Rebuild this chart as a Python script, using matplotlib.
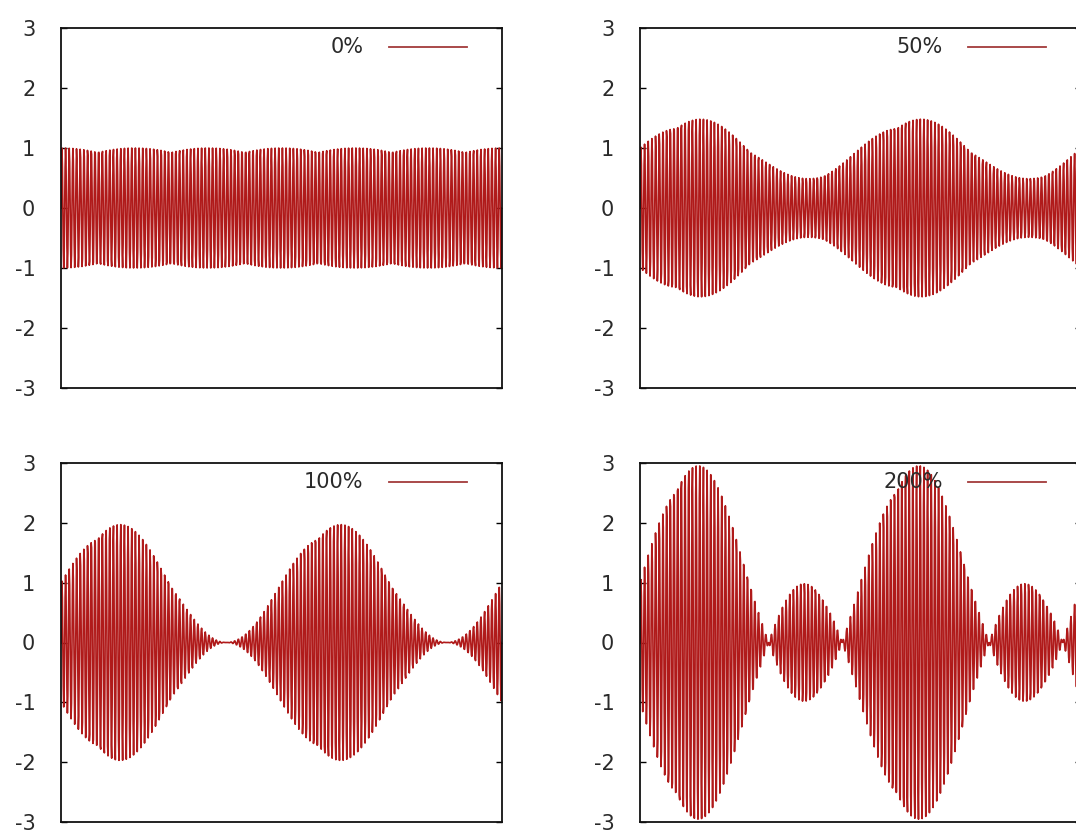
import matplotlib
matplotlib.use("Agg")
import matplotlib.pyplot as plt
import numpy as np

plt.rcParams['font.family'] = ['DejaVu Sans']
plt.rcParams['axes.unicode_minus'] = False

# values
depths = [0, 50, 100, 200]                 # modulation depth, percent
labels = ['0%', '50%', '100%', '200%']
carrier_cycles = 120                       # carrier cycles across the x range
mod_cycles = 2                             # envelope cycles across the x range
n_samples = 967
yticks = [-3, -2, -1, 0, 1, 2, 3]

line_color = '#b01a1a'
key_color = '#a33a3a'

fig = plt.figure(figsize=(10.76, 8.34), dpi=100)
W, H = 1076, 834
# panel boxes in pixels: left, top, bottom (width 441)
boxes = [(61, 28, 388), (640, 28, 388), (61, 463, 822), (640, 463, 822)]

x = np.linspace(0, 4 * np.pi, n_samples)
for depth, lab, (x0, top, bot) in zip(depths, labels, boxes):
    ax = fig.add_axes([x0 / W, 1 - bot / H, 441 / W, (bot - top) / H])
    m = depth / 100.0
    y = (1 + m * np.sin(mod_cycles / 2 * x)) * np.sin(carrier_cycles / 2 * x)
    ax.plot(x, y, color=line_color, lw=1.2)

    # key, gnuplot style: text then a short line sample
    ax.text(0.686, 0.947, lab, transform=ax.transAxes, ha='right', va='center',
            fontsize=15, color='#2a2a2a')
    ax.plot([0.744, 0.921], [0.947, 0.947], transform=ax.transAxes,
            color=key_color, lw=1.3)

    ax.set_xlim(0, 4 * np.pi)
    ax.set_ylim(-3, 3)
    ax.set_xticks([])
    ax.set_yticks(yticks)
    ax.tick_params(axis='y', direction='in', left=True, right=True, length=4,
                   width=1, pad=18.5, labelsize=15, labelcolor='#2a2a2a')
    for s in ax.spines.values():
        s.set_linewidth(1.3)
        s.set_color('#111111')

fig.savefig('out.png', dpi=100)
